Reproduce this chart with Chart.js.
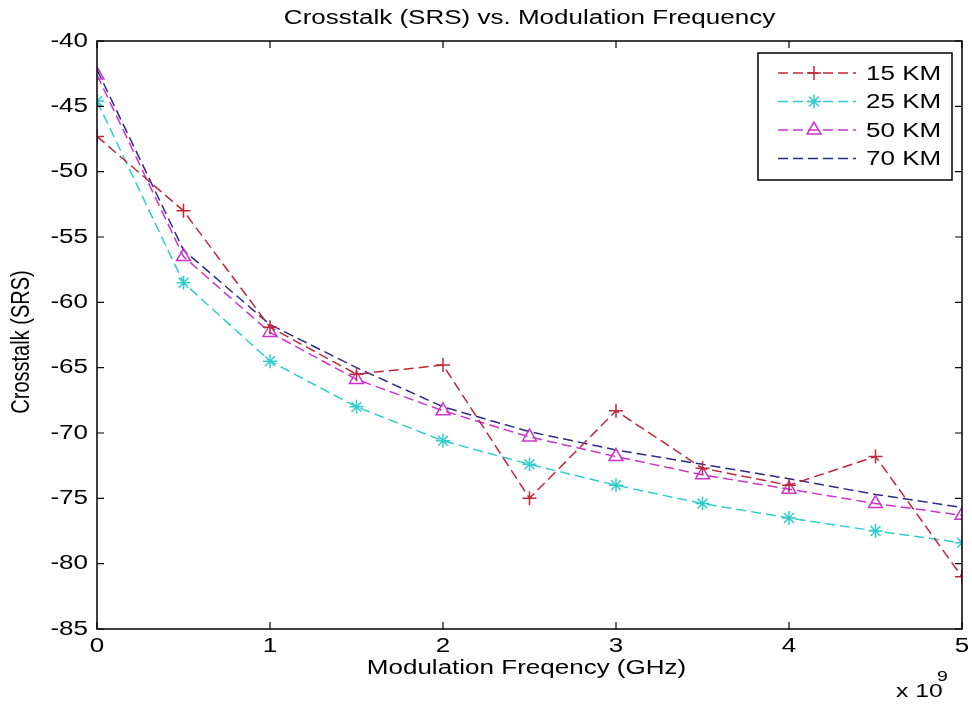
<!DOCTYPE html>
<html>
<head>
<meta charset="utf-8">
<script src="https://cdn.jsdelivr.net/npm/chart.js@4/dist/chart.umd.min.js"></script>
<style>
  html, body { margin: 0; padding: 0; background: #fff; }
  #wrap { width: 972px; height: 707px; }
</style>
</head>
<body>
<div id="wrap"><canvas id="c" width="972" height="707"></canvas></div>
<script>
// data (x in Hz)
const freqs = [0, 0.5e9, 1e9, 1.5e9, 2e9, 2.5e9, 3e9, 3.5e9, 4e9, 4.5e9, 5e9];
const km15 = [-47.3, -53.0, -61.9, -65.5, -64.8, -75.0, -68.3, -72.7, -74.0, -71.8, -81.0];
const km25 = [-44.6, -58.5, -64.5, -68.0, -70.6, -72.4, -74.0, -75.4, -76.5, -77.5, -78.4];
const km50 = [-42.6, -56.5, -62.3, -65.9, -68.3, -70.3, -71.8, -73.2, -74.3, -75.4, -76.3];
const km70 = [-42.2, -56.0, -61.7, -65.0, -68.0, -69.9, -71.3, -72.4, -73.5, -74.7, -75.7];
const seriesNames = ['15 KM', '25 KM', '50 KM', '70 KM'];
const yTicks = [-40, -45, -50, -55, -60, -65, -70, -75, -80, -85];

const FONT = "'Liberation Sans', Arial, sans-serif";
const SX = 1.3; // the figure text is a bit wide, stretch it
const pts = (arr) => arr.map((y, i) => ({ x: freqs[i], y }));

const mk = (label, data, color, style, r) => ({
  label,
  data: pts(data),
  borderColor: color,
  backgroundColor: 'rgba(0,0,0,0)',
  pointBorderColor: color,
  pointBackgroundColor: 'rgba(0,0,0,0)',
  borderWidth: 1.5,
  borderDash: [10, 5],
  pointStyle: style,
  pointRadius: r,
  pointBorderWidth: 1.5,
  tension: 0,
});

// wide text helper
function text(ctx, str, x, y, size, align, rot) {
  ctx.save();
  ctx.translate(x, y);
  if (rot) { ctx.rotate(-Math.PI / 2); ctx.scale(1, SX); } else ctx.scale(SX, 1);
  ctx.font = `${size}px ${FONT}`;
  ctx.textAlign = align;
  ctx.textBaseline = 'middle';
  ctx.fillStyle = '#000';
  ctx.fillText(str, 0, 0);
  ctx.restore();
}

// ---------- frame, ticks, labels, legend ----------
const framePlugin = {
  id: 'frame',
  afterDraw(chart) {
    const { ctx, chartArea: a, scales } = chart;
    ctx.save();
    ctx.strokeStyle = '#000';
    ctx.lineWidth = 1.5;
    ctx.strokeRect(a.left, a.top, a.right - a.left, a.bottom - a.top);
    ctx.lineWidth = 1.2;
    const tl = 7;
    scales.x.ticks.forEach(t => {
      const px = scales.x.getPixelForValue(t.value);
      ctx.beginPath();
      ctx.moveTo(px, a.bottom); ctx.lineTo(px, a.bottom - tl);
      ctx.moveTo(px, a.top); ctx.lineTo(px, a.top + tl);
      ctx.stroke();
      text(ctx, String(t.value / 1e9), px, a.bottom + 17, 20, 'center');
    });
    scales.y.ticks.forEach(t => {
      const py = scales.y.getPixelForValue(t.value);
      ctx.beginPath();
      ctx.moveTo(a.left, py); ctx.lineTo(a.left + tl, py);
      ctx.moveTo(a.right, py); ctx.lineTo(a.right - tl, py);
      ctx.stroke();
      text(ctx, String(t.value), a.left - 9, py, 20, 'right');
    });

    const cx = (a.left + a.right) / 2;
    text(ctx, 'Crosstalk (SRS) vs. Modulation Frequency', cx, 18, 20, 'center');
    text(ctx, 'Modulation Freqency (GHz)', cx - 3, 668, 20, 'center');
    text(ctx, 'Crosstalk (SRS)', 22, (a.top + a.bottom) / 2 + 7, 20, 'center', true);
    text(ctx, 'x 10', 896, 692, 19, 'left');
    text(ctx, '9', 937, 677, 15, 'left');

    // legend box
    const bx = 758, by = 53, bw = 194, bh = 127;
    ctx.fillStyle = '#fff';
    ctx.fillRect(bx, by, bw, bh);
    ctx.lineWidth = 1.5;
    ctx.strokeStyle = '#000';
    ctx.strokeRect(bx, by, bw, bh);
    chart.data.datasets.forEach((ds, i) => {
      const y = 73 + i * 28.5;
      ctx.strokeStyle = ds.borderColor;
      ctx.lineWidth = ds.borderWidth;
      ctx.setLineDash(ds.borderDash);
      ctx.beginPath();
      ctx.moveTo(778, y); ctx.lineTo(856, y);
      ctx.stroke();
      ctx.setLineDash([]);
      if (ds.pointRadius > 0) {
        ctx.fillStyle = 'rgba(0,0,0,0)';
        ctx.strokeStyle = ds.pointBorderColor;
        ctx.lineWidth = ds.pointBorderWidth;
        Chart.helpers.drawPoint(ctx, { pointStyle: ds.pointStyle, radius: ds.pointRadius, borderWidth: ds.pointBorderWidth }, 814, y);
      }
      text(ctx, ds.label, 866, y + 1, 20, 'left');
    });
    ctx.restore();
  },
};

new Chart(document.getElementById('c'), {
  type: 'line',
  data: {
    datasets: [
      mk(seriesNames[0], km15, '#c0283a', 'cross', 7),
      mk(seriesNames[1], km25, '#33cccc', 'star', 7),
      mk(seriesNames[2], km50, '#cc33cc', 'triangle', 8),
      mk(seriesNames[3], km70, '#2b2b88', 'circle', 0),
    ],
  },
  options: {
    responsive: false,
    animation: false,
    layout: { padding: { top: 41, right: 10, left: 0, bottom: 0 } },
    plugins: { legend: { display: false }, title: { display: false }, tooltip: { enabled: false } },
    scales: {
      x: {
        type: 'linear',
        min: 0, max: 5e9,
        afterFit: (s) => { s.height = 78; },
        grid: { display: false, drawTicks: false },
        border: { display: false },
        ticks: { stepSize: 1e9, display: false },
      },
      y: {
        min: -85, max: -40,
        afterFit: (s) => { s.width = 97; },
        afterBuildTicks: (s) => { s.ticks = yTicks.map(v => ({ value: v })); },
        grid: { display: false, drawTicks: false },
        border: { display: false },
        ticks: { display: false },
      },
    },
  },
  plugins: [framePlugin],
});
</script>
</body>
</html>
